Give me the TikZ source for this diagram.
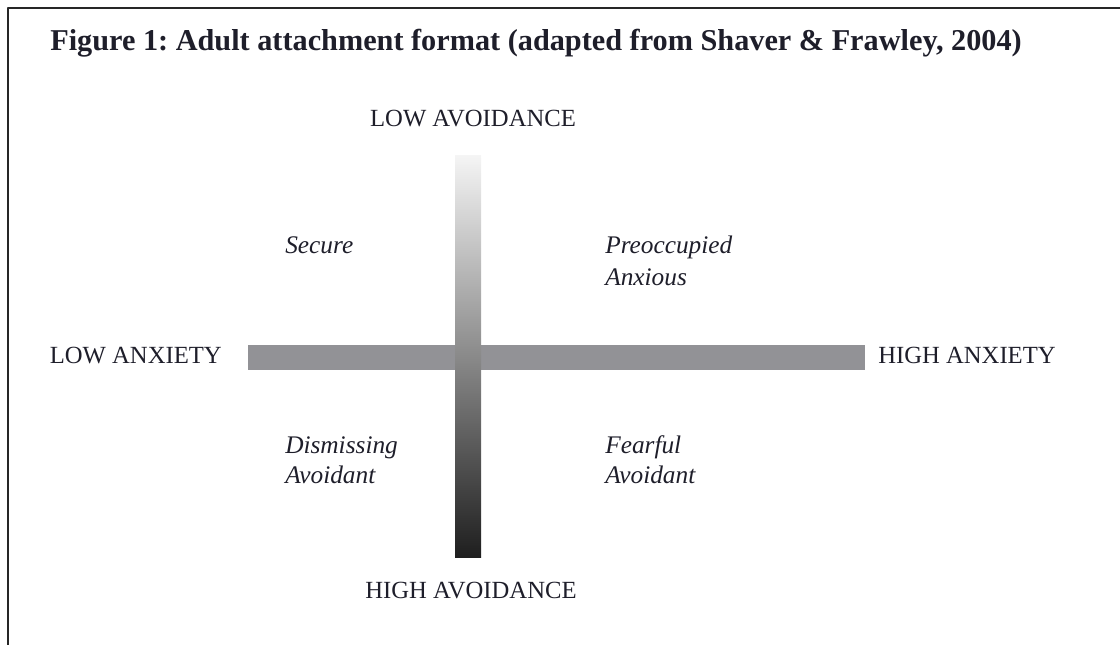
\documentclass[tikz,border=0pt]{standalone}
\usepackage{fontspec}
\setmainfont{Liberation Serif}
\definecolor{inkcol}{HTML}{1E1E2A}
\definecolor{barcol}{HTML}{929296}
\begin{document}
\frenchspacing
\begin{tikzpicture}[x=0.75pt,y=-0.75pt,line join=round,
	axislab/.style={inner sep=0,text=inkcol,font=\fontsize{18.5}{22}\selectfont},
	stylelab/.style={inner sep=0,anchor=base west,text=inkcol,font=\fontsize{19}{22}\selectfont\itshape}]
	\useasboundingbox (0,0) rectangle (1120,644);
	\draw[line width=1.6pt,black!85] (8,650)--(8,8)--(1125,8);
	\path (50,50)node[anchor=base west,inner sep=0,text=inkcol,font=\fontsize{22.7}{26}\selectfont\bfseries](title){Figure 1: Adult attachment format (adapted from Shaver \& Frawley, 2004)};
	% the two axes
	\fill[barcol] (248,345) rectangle (865,370);
	\shade[top color=white!96!black,middle color=black!45,bottom color=black!88] (455,155) rectangle (481,557);
	\path (473,126)node[axislab,anchor=base](lowav){LOW AVOIDANCE}
	(471,598)node[axislab,anchor=base](highav){HIGH AVOIDANCE}
	(222,363)node[axislab,anchor=base east](lowanx){LOW ANXIETY}
	(878,363)node[axislab,anchor=base west](highanx){HIGH ANXIETY};
	% quadrants
	\path (285,253)node[stylelab](secure){Secure}
	(605,253)node[stylelab](preocc){Preoccupied}
	(605,285)node[stylelab](anxious){Anxious}
	(285,453)node[stylelab](dismiss){Dismissing}
	(285,483)node[stylelab](avoidA){Avoidant}
	(605,453)node[stylelab](fearful){Fearful}
	(605,483)node[stylelab](avoidB){Avoidant};
\end{tikzpicture}
\end{document}
